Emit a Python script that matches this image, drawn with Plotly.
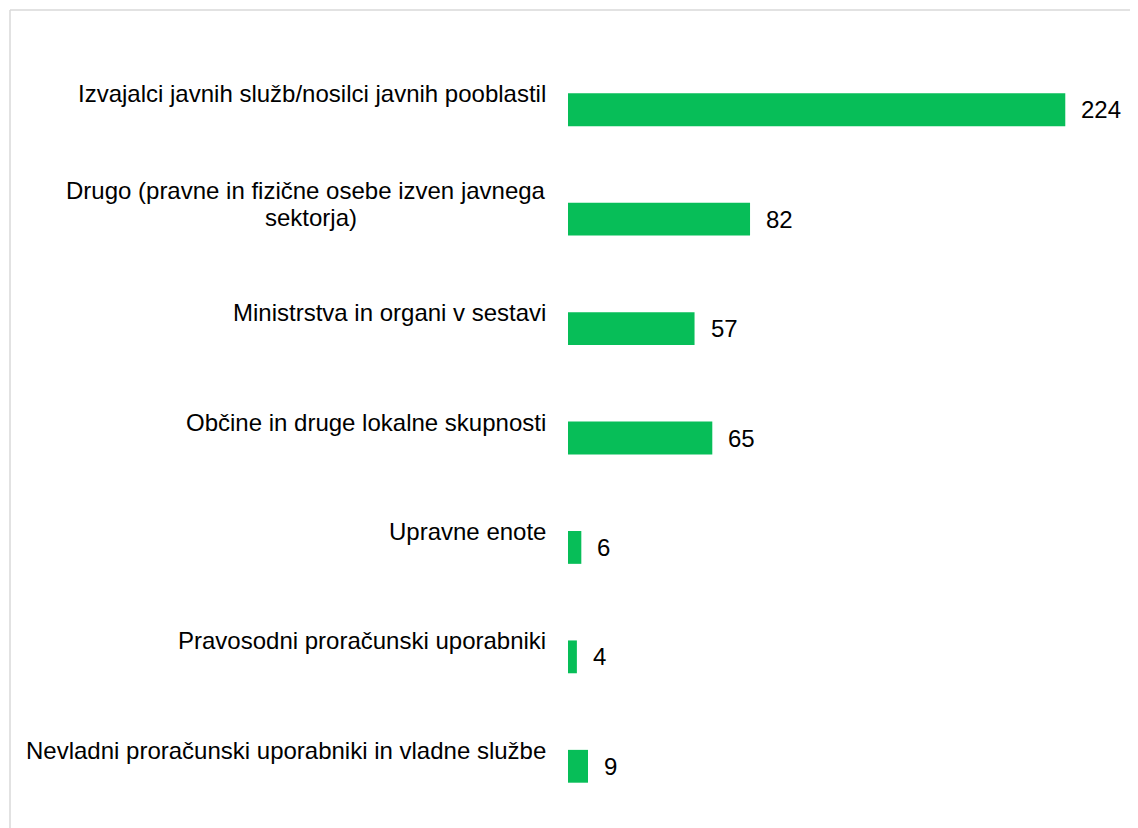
import plotly.graph_objects as go

categories = [
    "Izvajalci javnih služb/nosilci javnih pooblastil",
    "Drugo (pravne in fizične osebe izven javnega<br>sektorja)",
    "Ministrstva in organi v sestavi",
    "Občine in druge lokalne skupnosti",
    "Upravne enote",
    "Pravosodni proračunski uporabniki",
    "Nevladni proračunski uporabniki in vladne službe",
]
values = [224, 82, 57, 65, 6, 4, 9]

# page places the figure at an 8px offset
W, H = 1130, 820
ML, MR, MT, MB = 560, 15, 47, 7
FONT = "Liberation Sans, Arial, sans-serif"
GREEN = "#07BE58"

fig = go.Figure(go.Bar(
    x=values, y=list(range(len(categories))), orientation="h",
    marker=dict(color=GREEN, line=dict(width=0)), width=0.3,
    hoverinfo="skip",
))

annotations = []
for i, (cat, v) in enumerate(zip(categories, values)):
    lines = cat.split("<br>")
    n = len(lines)
    for j, line in enumerate(lines):
        shift = 16 + (n - 1) * 13 - j * 27
        ann = dict(
            x=0, xref="x", y=i, yref="y", text=line, showarrow=False,
            xanchor="right", yanchor="middle", xshift=-20, yshift=shift,
            font=dict(family=FONT, size=24, color="#000000"),
        )
        if j > 0:
            ann["xanchor"] = "center"
            ann["xshift"] = -20 - 237
        annotations.append(ann)
    annotations.append(dict(
        x=v, xref="x", y=i, yref="y", text=str(v), showarrow=False,
        xanchor="left", yanchor="middle", xshift=14, yshift=0,
        font=dict(family=FONT, size=24, color="#000000"),
    ))

pw = W - ML - MR
ph = H - MT - MB
px_to_x = lambda px: (px - ML) / pw
py_to_y = lambda py: 1 - (py - MT) / ph

shapes = [
    dict(type="line", xref="paper", yref="paper",
         x0=px_to_x(2), x1=px_to_x(W + 5), y0=py_to_y(2), y1=py_to_y(2),
         line=dict(color="#D9D9D9", width=1.5)),
    dict(type="line", xref="paper", yref="paper",
         x0=px_to_x(2), x1=px_to_x(2), y0=py_to_y(2), y1=py_to_y(H + 5),
         line=dict(color="#D9D9D9", width=1.5)),
]

fig.update_layout(
    width=W, height=H,
    margin=dict(l=ML, r=MR, t=MT, b=MB, pad=0),
    paper_bgcolor="white", plot_bgcolor="white",
    showlegend=False,
    xaxis=dict(range=[0, 250], visible=False, fixedrange=True),
    yaxis=dict(range=[len(categories) - 0.5, -0.5], visible=False, fixedrange=True),
    annotations=annotations,
    shapes=shapes,
    font=dict(family=FONT),
)

fig.write_html("out.html")
